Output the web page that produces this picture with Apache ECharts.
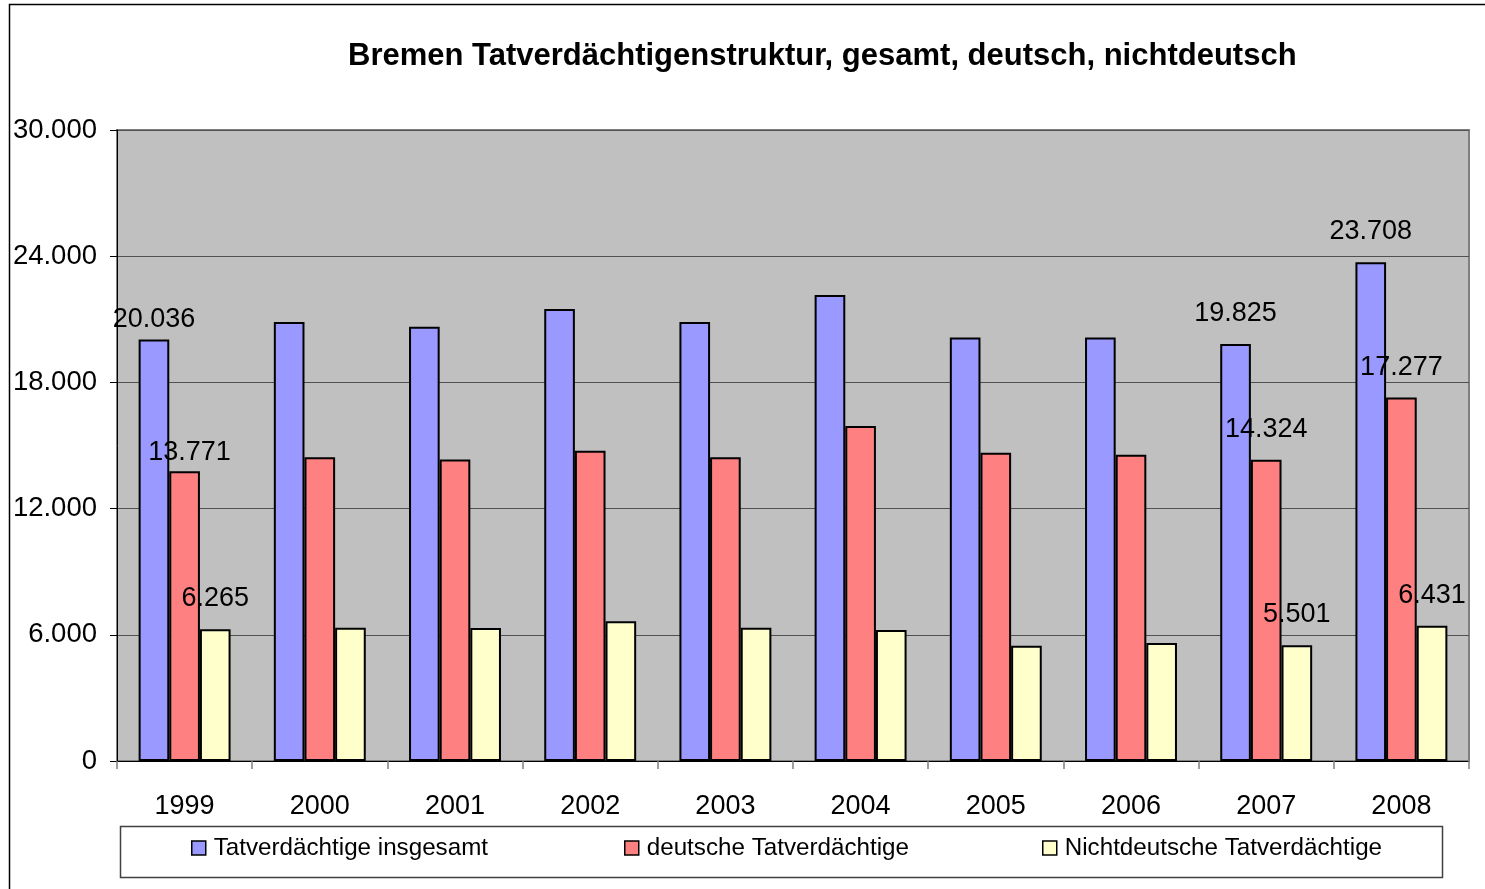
<!DOCTYPE html>
<html>
<head>
<meta charset="utf-8">
<script src="https://cdn.jsdelivr.net/npm/echarts@6/dist/echarts.min.js"></script>
<style>
  html, body { margin: 0; padding: 0; background: #fff; }
  #chart { width: 1485px; height: 889px; }
</style>
</head>
<body>
<div id="chart"></div>
<script>
// Bremen suspects by year: total, German, non-German
const years = ['1999', '2000', '2001', '2002', '2003', '2004', '2005', '2006', '2007', '2008'];
const totalSuspects = [20036, 20870, 20650, 21490, 20870, 22160, 20130, 20130, 19825, 23708];
const germanSuspects = [13771, 14440, 14340, 14750, 14440, 15930, 14660, 14560, 14324, 17277];
const nonGermanSuspects = [6265, 6340, 6320, 6650, 6340, 6230, 5480, 5610, 5501, 6431];
const seriesNames = ['Tatverdächtige insgesamt', 'deutsche Tatverdächtige', 'Nichtdeutsche Tatverdächtige'];
const labelledYears = ['1999', '2007', '2008'];
const yTicks = [0, 6000, 12000, 18000, 24000, 30000];

const FONT = '"Liberation Sans", Arial, Helvetica, sans-serif';
const colors = ['#9999FF', '#FF8080', '#FFFFCC'];

// German thousands separator: 20036 -> "20.036"
function fmt(v) {
  return String(v).replace(/\B(?=(\d{3})+(?!\d))/g, '.');
}

// per-series label nudges for the first year, where labels sit closer to the bars
const firstYearOffsets = [[0, 10], [5, 12], [0, 0]];

function buildData(values, s) {
  return values.map(function (v, i) {
    if (labelledYears.indexOf(years[i]) === -1) return v;
    const lbl = { show: true };
    if (i === 0) lbl.offset = firstYearOffsets[s];
    return { value: v, label: lbl };
  });
}

const valueSets = [totalSuspects, germanSuspects, nonGermanSuspects];

const chart = echarts.init(document.getElementById('chart'), null, { renderer: 'canvas' });

const series = valueSets.map(function (vals, s) {
  return {
    name: seriesNames[s],
    type: 'bar',
    barGap: '0%',
    barCategoryGap: '32%',
    data: buildData(vals, s),
    itemStyle: { color: colors[s], borderColor: '#000', borderWidth: 2 },
    label: {
      show: false,
      position: 'top',
      distance: 17,
      color: '#000',
      fontFamily: FONT,
      fontSize: 27,
      formatter: function (p) { return fmt(p.value); }
    },
    emphasis: { disabled: true },
    animation: false
  };
});

const legendLefts = [186, 619, 1037];

chart.setOption({
  animation: false,
  backgroundColor: '#fff',
  title: {
    text: 'Bremen Tatverdächtigenstruktur, gesamt, deutsch, nichtdeutsch',
    left: 343,
    top: 36,
    textStyle: { fontFamily: FONT, fontSize: 31, fontWeight: 'bold', color: '#000' }
  },
  legend: seriesNames.map(function (n, s) {
    return {
      data: [n],
      left: legendLefts[s],
      top: 831,
      icon: 'rect',
      itemWidth: 14,
      itemHeight: 14,
      selectedMode: false,
      itemStyle: { borderColor: '#000', borderWidth: 1.5 },
      textStyle: { fontFamily: FONT, fontSize: 24.2, color: '#000', padding: [0, 0, 0, 3] }
    };
  }),
  grid: {
    left: 117,
    top: 130,
    right: 16,
    bottom: 128,
    show: true,
    backgroundColor: '#C0C0C0',
    borderColor: '#808080',
    borderWidth: 2
  },
  xAxis: {
    type: 'category',
    data: years,
    boundaryGap: true,
    axisLine: { show: true, lineStyle: { color: '#000', width: 1 } },
    axisTick: { show: true, alignWithLabel: false, length: 8, lineStyle: { color: '#808080', width: 1.5 } },
    axisLabel: { color: '#000', fontFamily: FONT, fontSize: 27, margin: 32 },
    splitLine: { show: false }
  },
  yAxis: {
    type: 'value',
    min: yTicks[0],
    max: yTicks[yTicks.length - 1],
    interval: yTicks[1] - yTicks[0],
    axisLine: { show: true, lineStyle: { color: '#000', width: 1 } },
    axisTick: { show: true, length: 7, lineStyle: { color: '#000', width: 1 } },
    axisLabel: {
      color: '#000', fontFamily: FONT, fontSize: 27.5, margin: 20,
      formatter: function (v) { return fmt(v); }
    },
    splitLine: { show: true, lineStyle: { color: '#505050', width: 1 } }
  },
  graphic: [
    {
      type: 'rect',
      shape: { x: 9.5, y: 4.5, width: 1600, height: 1000 },
      style: { fill: 'none', stroke: '#000', lineWidth: 1.5 },
      silent: true,
      z: 100
    },
    {
      type: 'rect',
      shape: { x: 120.5, y: 826.5, width: 1322, height: 51 },
      style: { fill: 'none', stroke: '#404040', lineWidth: 1.5 },
      silent: true,
      z: 100
    }
  ],
  series: series
});
</script>
</body>
</html>
